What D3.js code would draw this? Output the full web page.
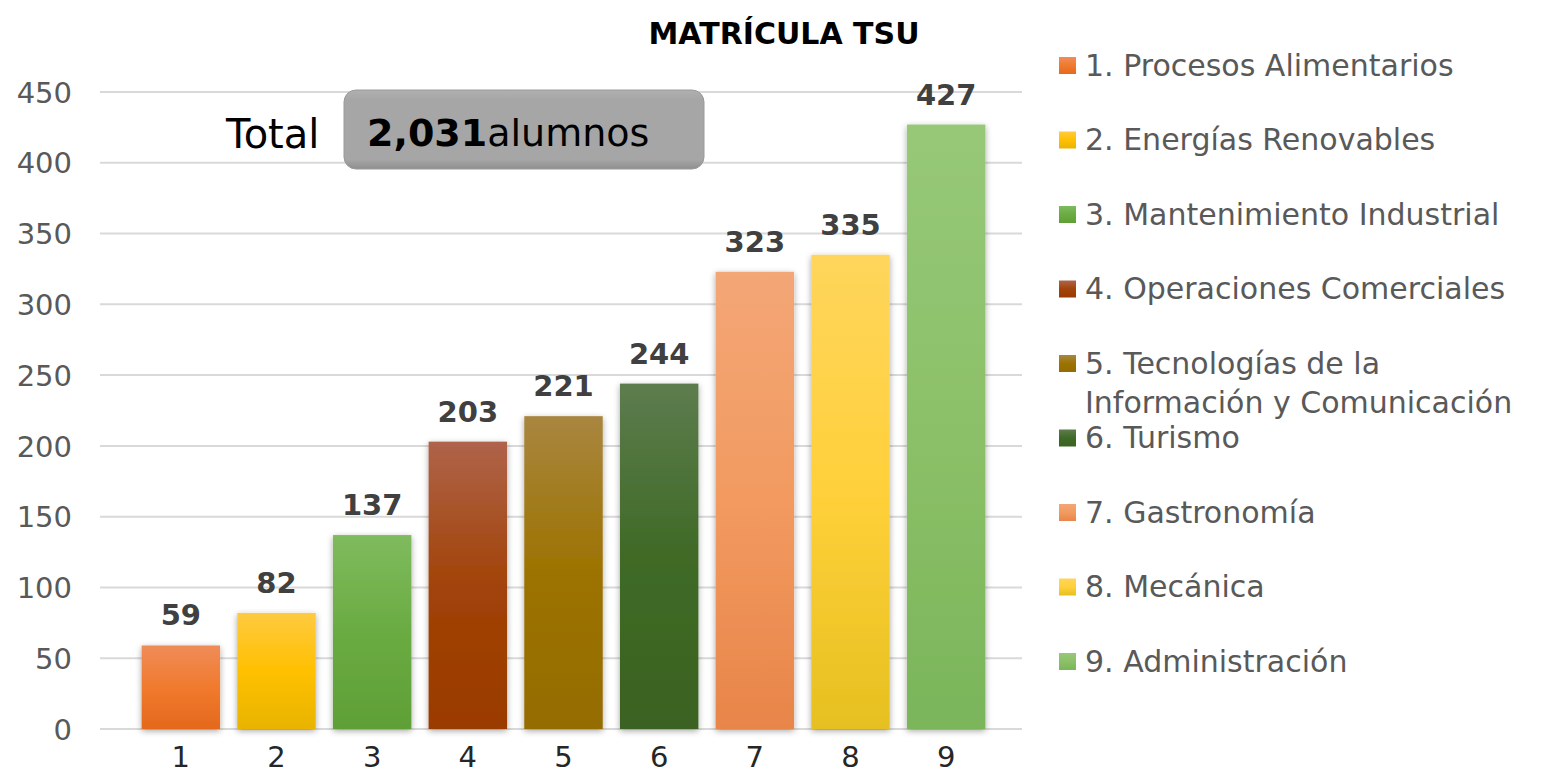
<!DOCTYPE html>
<html><head><meta charset="utf-8">
<script src="https://cdn.jsdelivr.net/npm/d3@7"></script>
<style>
html,body{margin:0;padding:0;background:#fff;}
svg{display:block;}
</style></head>
<body>
<svg id="chart" width="1548" height="778"></svg>
<script>
const categories = ["1","2","3","4","5","6","7","8","9"];
const values = [59, 82, 137, 203, 221, 244, 323, 335, 427];
const legendLabels = [
  ["1. Procesos Alimentarios"],
  ["2. Energías Renovables"],
  ["3. Mantenimiento Industrial"],
  ["4. Operaciones Comerciales"],
  ["5. Tecnologías de la", "Información y Comunicación"],
  ["6. Turismo"],
  ["7. Gastronomía"],
  ["8. Mecánica"],
  ["9. Administración"]
];
const yTicks = [0, 50, 100, 150, 200, 250, 300, 350, 400, 450];
const titleText = "MATRÍCULA TSU";
const totalValue = "2,031";
const colorTop    = ["#f08c58","#ffca40","#7fbb5e","#af634a","#a98640","#5d7c4e","#f3a676","#ffd55c","#96c878"];
const colorMid    = ["#f07a2e","#ffc000","#6aab42","#a24308","#9c7300","#3f6a26","#f29a60","#ffd03a","#8cc068"];
const colorBottom = ["#e4691c","#e8b400","#5f9f36","#9a3a00","#946c00","#3b6222","#e8854a","#e6c020","#7ab55a"];

const svg = d3.select("#chart");
const FONT = "'DejaVu Sans', sans-serif";
const defs = svg.append("defs");
categories.forEach((c,i)=>{
  const g = defs.append("linearGradient").attr("id","g"+i).attr("x1",0).attr("y1",0).attr("x2",0).attr("y2",1);
  g.append("stop").attr("offset","0%").attr("stop-color",colorTop[i]);
  g.append("stop").attr("offset","50%").attr("stop-color",colorMid[i]);
  g.append("stop").attr("offset","100%").attr("stop-color",colorBottom[i]);
});
const sh = defs.append("filter").attr("id","shadow").attr("x","-20%").attr("y","-10%").attr("width","140%").attr("height","120%");
sh.append("feDropShadow").attr("dx",0).attr("dy",2).attr("stdDeviation",3).attr("flood-color","#000").attr("flood-opacity",0.35);
const bgrad = defs.append("linearGradient").attr("id","boxg").attr("x1",0).attr("y1",0).attr("x2",0).attr("y2",1);
bgrad.append("stop").attr("offset","0%").attr("stop-color","#b0b0b0");
bgrad.append("stop").attr("offset","12%").attr("stop-color","#a6a6a6");
bgrad.append("stop").attr("offset","88%").attr("stop-color","#a6a6a6");
bgrad.append("stop").attr("offset","100%").attr("stop-color","#8e8e8e");

const y = d3.scaleLinear().domain([0,450]).range([729,92]);
const x = d3.scaleBand().domain(categories).range([133,994]).paddingInner(0.18).paddingOuter(0.09);

// gridlines
svg.append("g").selectAll("line").data(yTicks).join("line")
  .attr("x1",100).attr("x2",1022)
  .attr("y1",d=>y(d)).attr("y2",d=>y(d))
  .attr("stroke","#d9d9d9").attr("stroke-width",2);

// y axis labels
const yAxis = d3.axisLeft(y).tickValues(yTicks).tickSize(0).tickPadding(0);
const yg = svg.append("g").attr("transform","translate(72,0)").call(yAxis);
yg.select(".domain").remove();
yg.selectAll("text").attr("font-family",FONT).attr("font-size",29).attr("fill","#595959").attr("dy","0.35em");

// x axis labels
const xAxis = d3.axisBottom(x).tickSize(0).tickPadding(0);
const xg = svg.append("g").attr("transform","translate(0,744)").call(xAxis);
xg.select(".domain").remove();
xg.selectAll("text").attr("font-family",FONT).attr("font-size",29).attr("fill","#262626").attr("dy","0.8em");

// bars
svg.append("g").selectAll("rect").data(values).join("rect")
  .attr("x",(d,i)=>x(categories[i]))
  .attr("width",x.bandwidth())
  .attr("y",d=>y(d))
  .attr("height",d=>y(0)-y(d))
  .attr("fill",(d,i)=>"url(#g"+i+")")
  .attr("filter","url(#shadow)");

// value labels
svg.append("g").selectAll("text").data(values).join("text")
  .attr("x",(d,i)=>x(categories[i])+x.bandwidth()/2)
  .attr("y",d=>y(d)-20)
  .attr("text-anchor","middle")
  .attr("font-family",FONT).attr("font-weight","bold").attr("font-size",29)
  .attr("fill","#404040")
  .text(d=>d);

// title
svg.append("text").attr("x",784).attr("y",44).attr("text-anchor","middle")
  .attr("font-family",FONT).attr("font-weight","bold").attr("font-size",30).attr("fill","#000")
  .text(titleText);

// total box
svg.append("text").attr("x",226).attr("y",148)
  .attr("font-family",FONT).attr("font-size",40).attr("fill","#000").text("Total");
svg.append("rect").attr("x",344).attr("y",90).attr("width",360).attr("height",79).attr("rx",12)
  .attr("fill","url(#boxg)").attr("stroke","#9a9a9a").attr("stroke-width",1);
const tt = svg.append("text").attr("x",367).attr("y",146)
  .attr("font-family",FONT).attr("font-size",38).attr("fill","#000");
tt.append("tspan").attr("font-weight","bold").text(totalValue);
tt.append("tspan").text("alumnos");

// legend
const lg = svg.append("g");
legendLabels.forEach((lines,i)=>{
  const cy = 65 + i*74.5;
  lg.append("rect").attr("x",1059).attr("y",cy-8).attr("width",17).attr("height",17)
    .attr("fill","url(#g"+i+")");
  lines.forEach((t,j)=>{
    lg.append("text").attr("x",1085).attr("y",cy + j*39).attr("dy","0.35em")
      .attr("font-family",FONT).attr("font-size",30).attr("fill","#595959").text(t);
  });
});
</script>
</body></html>
